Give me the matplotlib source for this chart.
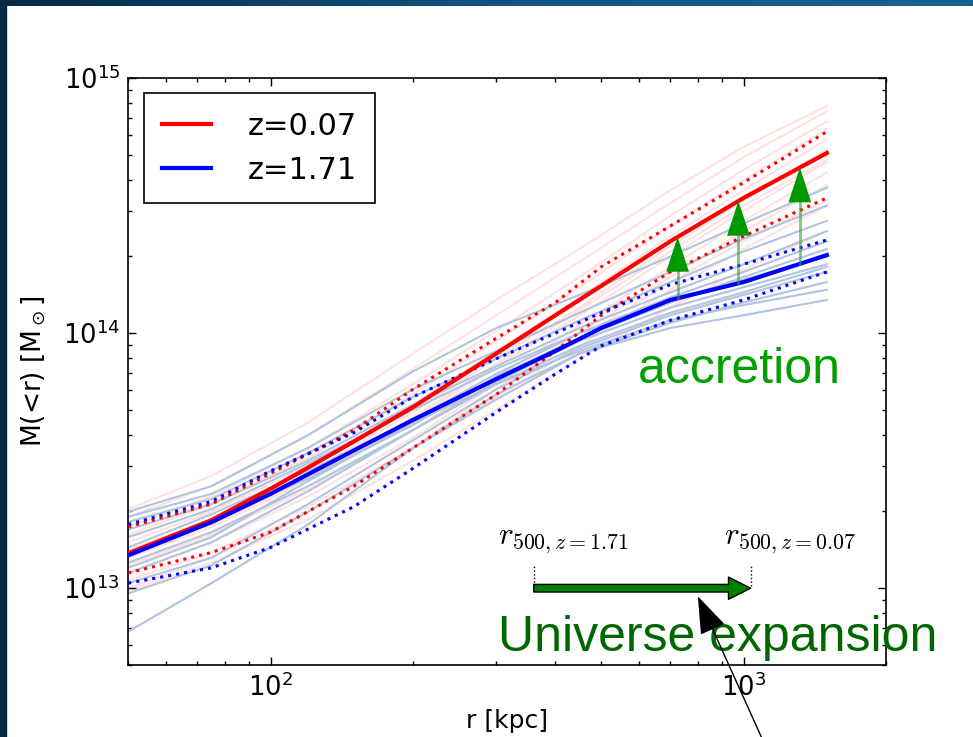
import numpy as np
import matplotlib
matplotlib.use('Agg')
import matplotlib.pyplot as plt
from matplotlib.patches import Rectangle
from matplotlib.colors import LinearSegmentedColormap

# ---------------- data ----------------
r_main = [50, 75, 100, 150, 200, 300, 400, 500, 700, 1000, 1500]  # kpc
# log10 M(<r)/Msun
logM_z007_median = [13.137, 13.267, 13.39, 13.575, 13.71, 13.92, 14.07, 14.185, 14.36, 14.53, 14.706]
logM_z007_upper = [13.24, 13.33, 13.45, 13.62, 13.78, 13.98, 14.12, 14.26, 14.42, 14.59, 14.79]
logM_z007_lower = [13.06, 13.14, 13.22, 13.40, 13.55, 13.76, 13.93, 14.07, 14.24, 14.38, 14.53]
logM_z171_median = [13.129, 13.259, 13.37, 13.54, 13.66, 13.82, 13.93, 14.02, 14.13, 14.20, 14.306]
logM_z171_upper = [13.25, 13.34, 13.46, 13.61, 13.75, 13.90, 14.00, 14.08, 14.19, 14.27, 14.365]
logM_z171_lower = [13.02, 13.08, 13.16, 13.32, 13.47, 13.69, 13.84, 13.95, 14.05, 14.13, 14.24]

r_thin = [50, 75, 120, 200, 300, 450, 700, 1000, 1500]
logM_z171_clusters = [
    [12.83, 13.02, 13.25, 13.55, 13.76, 13.92, 14.02, 14.07, 14.13],
    [12.98, 13.09, 13.30, 13.55, 13.74, 13.92, 14.04, 14.12, 14.20],
    [13.02, 13.12, 13.33, 13.58, 13.78, 13.94, 14.07, 14.15, 14.24],
    [13.06, 13.18, 13.38, 13.62, 13.80, 13.95, 14.08, 14.16, 14.26],
    [13.10, 13.22, 13.40, 13.62, 13.81, 13.97, 14.10, 14.18, 14.27],
    [13.13, 13.27, 13.43, 13.64, 13.83, 13.98, 14.12, 14.21, 14.30],
    [13.16, 13.29, 13.46, 13.66, 13.84, 14.00, 14.12, 14.22, 14.33],
    [13.20, 13.31, 13.49, 13.70, 13.86, 14.00, 14.14, 14.24, 14.36],
    [13.23, 13.33, 13.50, 13.72, 13.87, 14.02, 14.16, 14.27, 14.40],
    [13.26, 13.35, 13.53, 13.75, 13.90, 14.05, 14.20, 14.32, 14.44],
    [13.28, 13.37, 13.55, 13.78, 13.93, 14.08, 14.24, 14.37, 14.50],
    [13.30, 13.40, 13.60, 13.85, 14.02, 14.15, 14.30, 14.43, 14.57],
    [13.08, 13.20, 13.42, 13.65, 13.80, 13.93, 14.05, 14.11, 14.17],
]
logM_z007_clusters = [
    [12.99, 13.10, 13.27, 13.50, 13.70, 13.90, 14.10, 14.25, 14.40],
    [13.03, 13.14, 13.32, 13.55, 13.75, 13.95, 14.17, 14.33, 14.50],
    [13.06, 13.18, 13.36, 13.59, 13.80, 14.00, 14.22, 14.40, 14.58],
    [13.09, 13.21, 13.39, 13.62, 13.83, 14.03, 14.26, 14.44, 14.63],
    [13.12, 13.24, 13.42, 13.66, 13.87, 14.07, 14.30, 14.48, 14.67],
    [13.15, 13.27, 13.45, 13.69, 13.90, 14.10, 14.34, 14.52, 14.72],
    [13.18, 13.30, 13.48, 13.72, 13.93, 14.14, 14.38, 14.56, 14.76],
    [13.21, 13.33, 13.51, 13.76, 13.97, 14.18, 14.42, 14.60, 14.80],
    [13.24, 13.36, 13.55, 13.80, 14.01, 14.22, 14.46, 14.64, 14.83],
    [13.28, 13.40, 13.60, 13.86, 14.07, 14.28, 14.51, 14.69, 14.87],
    [13.31, 13.44, 13.65, 13.92, 14.13, 14.33, 14.56, 14.73, 14.89],
    [13.00, 13.12, 13.30, 13.55, 13.78, 13.98, 14.20, 14.36, 14.52],
    [13.14, 13.25, 13.43, 13.67, 13.88, 14.09, 14.32, 14.50, 14.68],
]

labels = ['z=0.07', 'z=1.71']
accretion_r = [725, 975, 1315]          # kpc, positions of accretion arrows
r500 = [360, 1035]                      # r500 at z=1.71 and z=0.07
r500_labels = [r'$r_{500,z=1.71}$', r'$r_{500,z=0.07}$']
r500_label_r = [415, 1253]
expansion_M = 1.0e13
annot_tip = (800, 9.3e12)

# ---------------- figure ----------------
W, H = 973, 737
fig = plt.figure(figsize=(W / 100, H / 100), dpi=100)
fig.patch.set_facecolor('white')

# slide frame (dark blue strips)
grad = np.linspace(0, 1, 256)[None, :]
cm = LinearSegmentedColormap.from_list('bar', ['#062a45', '#135384', '#1a6096'])
bax = fig.add_axes([0, 1 - 6 / H, 1, 6 / H])
bax.imshow(grad, aspect='auto', cmap=cm)
bax.set_axis_off()
fig.add_artist(Rectangle((0, 0), 6 / W, 1, transform=fig.transFigure,
                         color='#062a45', zorder=0))

ax = fig.add_axes([128.3 / W, 1 - 665 / H, (886 - 128.3) / W, (665 - 78) / H])
ax.set_xscale('log')
ax.set_yscale('log')

for c in logM_z007_clusters:
    ax.plot(r_thin, 10 ** np.array(c), color='red', alpha=0.12, lw=1.5, zorder=1)
for c in logM_z171_clusters:
    ax.plot(r_thin, 10 ** np.array(c), color='#b0c4de', lw=1.5, zorder=2)

ax.plot(r_main, 10 ** np.array(logM_z007_upper), color='red', ls=':', lw=2.2, zorder=3)
ax.plot(r_main, 10 ** np.array(logM_z007_lower), color='red', ls=':', lw=2.2, zorder=3)
ax.plot(r_main, 10 ** np.array(logM_z171_upper), color='blue', ls=':', lw=2.2, zorder=3)
ax.plot(r_main, 10 ** np.array(logM_z171_lower), color='blue', ls=':', lw=2.2, zorder=3)
l1, = ax.plot(r_main, 10 ** np.array(logM_z007_median), color='red', lw=3, zorder=4,
              label=labels[0])
l2, = ax.plot(r_main, 10 ** np.array(logM_z171_median), color='blue', lw=3, zorder=4,
              label=labels[1])

# accretion arrows (from z=1.71 median up to z=0.07 median)
lr = np.log10(r_main)
for ra in accretion_r:
    y0 = 10 ** np.interp(np.log10(ra), lr, logM_z171_median)
    y1 = 10 ** np.interp(np.log10(ra), lr, logM_z007_median)
    ax.plot([ra, ra], [y0, y1 / 1.15], color='#2ca02c', alpha=0.6, lw=2, zorder=5)
    ax.annotate('', xy=(ra, y1), xytext=(ra, y0),
                arrowprops=dict(arrowstyle='-|>,head_length=2.5,head_width=0.82',
                                mutation_scale=10, color='#009900', lw=0,
                                shrinkA=0, shrinkB=0), zorder=6)

ax.text(598, 10 ** 13.804, 'accretion', color='#00a000', fontsize=36,
        family='Liberation Sans', ha='left', va='baseline', zorder=7)

# expansion arrow
for rr, lr5, lab in zip(r500, r500_label_r, r500_labels):
    ax.plot([rr, rr], [expansion_M * 1.02, expansion_M * 1.22], color='black', ls=':',
            lw=1, zorder=5)
    ax.text(lr5, expansion_M * 1.53, lab, fontsize=22.5, math_fontfamily='cm',
            ha='center', va='center', zorder=7)
ax.annotate('', xy=(r500[1], expansion_M), xytext=(r500[0], expansion_M),
            arrowprops=dict(arrowstyle='simple,head_length=16,head_width=16,tail_width=5.5',
                            mutation_scale=1, fc='#008000', ec='black', lw=1,
                            shrinkA=0, shrinkB=0), zorder=6)
ax.text(302, 10 ** 12.753, 'Universe expansion', color='#006600', fontsize=36,
        family='Liberation Sans', ha='left', va='baseline', zorder=7)

# black pointer arrow
ax.annotate('', xy=annot_tip, xycoords='data',
            xytext=(768 / W, -0.02), textcoords='figure fraction',
            arrowprops=dict(arrowstyle='-|>,head_length=2.4,head_width=0.85',
                            mutation_scale=10, color='black', lw=1,
                            shrinkA=0, shrinkB=0),
            annotation_clip=False, zorder=8)

ax.set_xlim(50, 2000)
ax.set_ylim(5e12, 1e15)
ax.set_xlabel('r [kpc]', fontsize=18)
ax.set_ylabel(r'M(<r) [M$_\odot$]', fontsize=19)
ax.tick_params(which='both', direction='in', top=True, right=True, labelsize=18.5)
ax.tick_params(which='major', length=6, width=1, pad=6)
ax.tick_params(which='minor', length=3, width=1)
for s in ax.spines.values():
    s.set_linewidth(1.2)
ax.xaxis.set_label_coords(0.5, -0.075)
ax.yaxis.set_label_coords(-0.106, 0.5)

leg = ax.legend(handles=[l1, l2], loc='upper left', fontsize=22, fancybox=False,
                framealpha=1, edgecolor='black', handlelength=1.6, handletextpad=1.2,
                borderpad=0.6, labelspacing=0.5, borderaxespad=0.5)
leg.get_frame().set_linewidth(1.2)

fig.savefig('out.png', dpi=100)
